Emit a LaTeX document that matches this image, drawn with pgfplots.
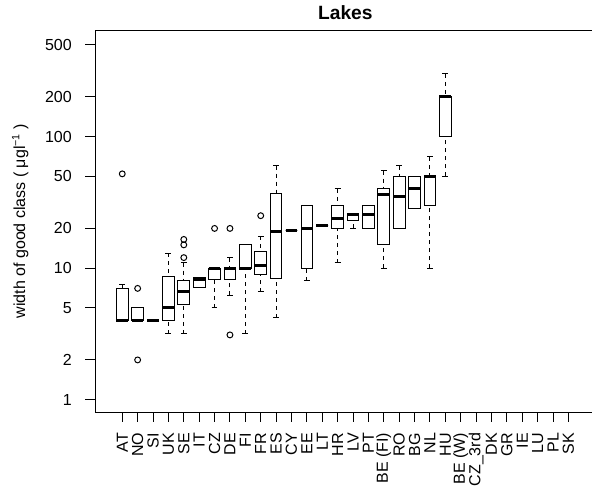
\documentclass[border=0pt]{standalone}
\usepackage{fontspec}
\setmainfont{Liberation Sans}
\usepackage{pgfplots}
\pgfplotsset{compat=1.18}
\usepgfplotslibrary{statistics}

\pgfplotsset{
  rbox/.style={
    black, line width=0.75pt, solid, mark=o, mark size=2.2pt,
    mark options={solid, line width=0.75pt},
    boxplot/draw direction=y,
    boxplot/box extend=0.76,
    boxplot/whisker extend=0.38,
    boxplot/every median/.style={line width=2.25pt},
    boxplot/draw/lower whisker/.code={
      \draw[dash pattern=on 3pt off 3pt]
        (boxplot cs:\pgfplotsboxplotvalue{lower whisker})
        -- (boxplot cs:\pgfplotsboxplotvalue{lower quartile});
      \draw (boxplot whisker cs:\pgfplotsboxplotvalue{lower whisker},0)
        -- (boxplot whisker cs:\pgfplotsboxplotvalue{lower whisker},1);
    },
    boxplot/draw/upper whisker/.code={
      \draw[dash pattern=on 3pt off 3pt]
        (boxplot cs:\pgfplotsboxplotvalue{upper whisker})
        -- (boxplot cs:\pgfplotsboxplotvalue{upper quartile});
      \draw (boxplot whisker cs:\pgfplotsboxplotvalue{upper whisker},0)
        -- (boxplot whisker cs:\pgfplotsboxplotvalue{upper whisker},1);
    },
  },
}

\begin{document}
\begin{tikzpicture}
\begin{axis}[
  at={(0,0)}, anchor=south west,
  scale only axis, width=375pt, height=286.5pt,
  ymode=log, ymin=0.8035, ymax=645.6,
  xmin=-0.75, xmax=31.75,
  xtick={1,...,30},
  xticklabels={AT,NO,SI,UK,SE,IT,CZ,DE,FI,FR,ES,CY,EE,LT,HR,LV,PT,BE (FI),RO,BG,NL,HU,BE (W),CZ\_3rd,DK,GR,IE,LU,PL,SK},
  ytick={1,2,5,10,20,50,100,200,500},
  yticklabels={1,2,5,10,20,50,100,200,500},
  minor ytick={},
  xtick pos=left, ytick pos=left,
  tick align=outside,
  major tick length=7.5pt,
  every tick/.style={black, line width=0.75pt},
  axis line style={line width=0.75pt},
  tick label style={font=\fontsize{12}{14}\selectfont, inner sep=0pt},
  xticklabel style={rotate=90, anchor=east},
  yticklabel style={anchor=east},
  xticklabel shift=8pt,
  yticklabel shift=10pt,
  title={Lakes},
  title style={at={(0.5,1)}, anchor=base, yshift=2.25pt, font=\bfseries\fontsize{14.4}{16}\selectfont},
  ylabel={width of good class ( μgl\textsuperscript{−1} )},
  ylabel style={at={(axis description cs:-0.1405,0.5)}, anchor=base, rotate=0, font=\fontsize{12}{14}\selectfont},
]
% AT
\addplot[rbox, boxplot prepared={draw position=1, lower whisker=4, lower quartile=4, median=4, upper quartile=7, upper whisker=7.5}] coordinates {(0,52)};
% NO
\addplot[rbox, boxplot prepared={draw position=2, lower whisker=4, lower quartile=4, median=4, upper quartile=5, upper whisker=5}] coordinates {(0,7) (0,2)};
% SI
\addplot[rbox, boxplot prepared={draw position=3, lower whisker=4, lower quartile=4, median=4, upper quartile=4, upper whisker=4}] coordinates {};
% UK
\addplot[rbox, boxplot prepared={draw position=4, lower whisker=3.15, lower quartile=4, median=5, upper quartile=8.6, upper whisker=13}] coordinates {};
% SE
\addplot[rbox, boxplot prepared={draw position=5, lower whisker=3.15, lower quartile=5.3, median=6.6, upper quartile=8, upper whisker=11}] coordinates {(0,12) (0,15) (0,16.5)};
% IT
\addplot[rbox, boxplot prepared={draw position=6, lower whisker=7.1, lower quartile=7.1, median=8.2, upper quartile=8.4, upper whisker=8.4}] coordinates {};
% CZ
\addplot[rbox, boxplot prepared={draw position=7, lower whisker=5, lower quartile=8.2, median=10, upper quartile=10, upper whisker=10}] coordinates {(0,20)};
% DE
\addplot[rbox, boxplot prepared={draw position=8, lower whisker=6.2, lower quartile=8.2, median=10, upper quartile=10, upper whisker=12}] coordinates {(0,20) (0,3.1)};
% FI
\addplot[rbox, boxplot prepared={draw position=9, lower whisker=3.15, lower quartile=10, median=10, upper quartile=15, upper whisker=15}] coordinates {};
% FR
\addplot[rbox, boxplot prepared={draw position=10, lower whisker=6.6, lower quartile=8.85, median=10.5, upper quartile=13.3, upper whisker=17.5}] coordinates {(0,25)};
% ES
\addplot[rbox, boxplot prepared={draw position=11, lower whisker=4.2, lower quartile=8.3, median=19, upper quartile=37, upper whisker=60}] coordinates {};
% CY
\addplot[rbox, boxplot prepared={draw position=12, lower whisker=19.4, lower quartile=19.4, median=19.4, upper quartile=19.4, upper whisker=19.4}] coordinates {};
% EE
\addplot[rbox, boxplot prepared={draw position=13, lower whisker=8, lower quartile=10, median=20, upper quartile=30, upper whisker=30}] coordinates {};
% LT
\addplot[rbox, boxplot prepared={draw position=14, lower whisker=21, lower quartile=21, median=21, upper quartile=21, upper whisker=21}] coordinates {};
% HR
\addplot[rbox, boxplot prepared={draw position=15, lower whisker=11, lower quartile=20, median=24, upper quartile=30, upper whisker=40}] coordinates {};
% LV
\addplot[rbox, boxplot prepared={draw position=16, lower whisker=20, lower quartile=22.8, median=25.5, upper quartile=26, upper whisker=26}] coordinates {};
% PT
\addplot[rbox, boxplot prepared={draw position=17, lower whisker=20, lower quartile=20, median=25.5, upper quartile=30, upper whisker=30}] coordinates {};
% BE (FI)
\addplot[rbox, boxplot prepared={draw position=18, lower whisker=10, lower quartile=15, median=36, upper quartile=40, upper whisker=55}] coordinates {};
% RO
\addplot[rbox, boxplot prepared={draw position=19, lower whisker=20, lower quartile=20, median=35, upper quartile=50, upper whisker=60}] coordinates {};
% BG
\addplot[rbox, boxplot prepared={draw position=20, lower whisker=28.3, lower quartile=28.3, median=40, upper quartile=50, upper whisker=50}] coordinates {};
% NL
\addplot[rbox, boxplot prepared={draw position=21, lower whisker=10, lower quartile=30, median=50, upper quartile=50, upper whisker=70}] coordinates {};
% HU
\addplot[rbox, boxplot prepared={draw position=22, lower whisker=50, lower quartile=100, median=200, upper quartile=200, upper whisker=300}] coordinates {};
\end{axis}
\pgfresetboundingbox
\useasboundingbox (-71.5pt,-58.5pt) rectangle (372.5pt,309pt);
\end{tikzpicture}
\end{document}
